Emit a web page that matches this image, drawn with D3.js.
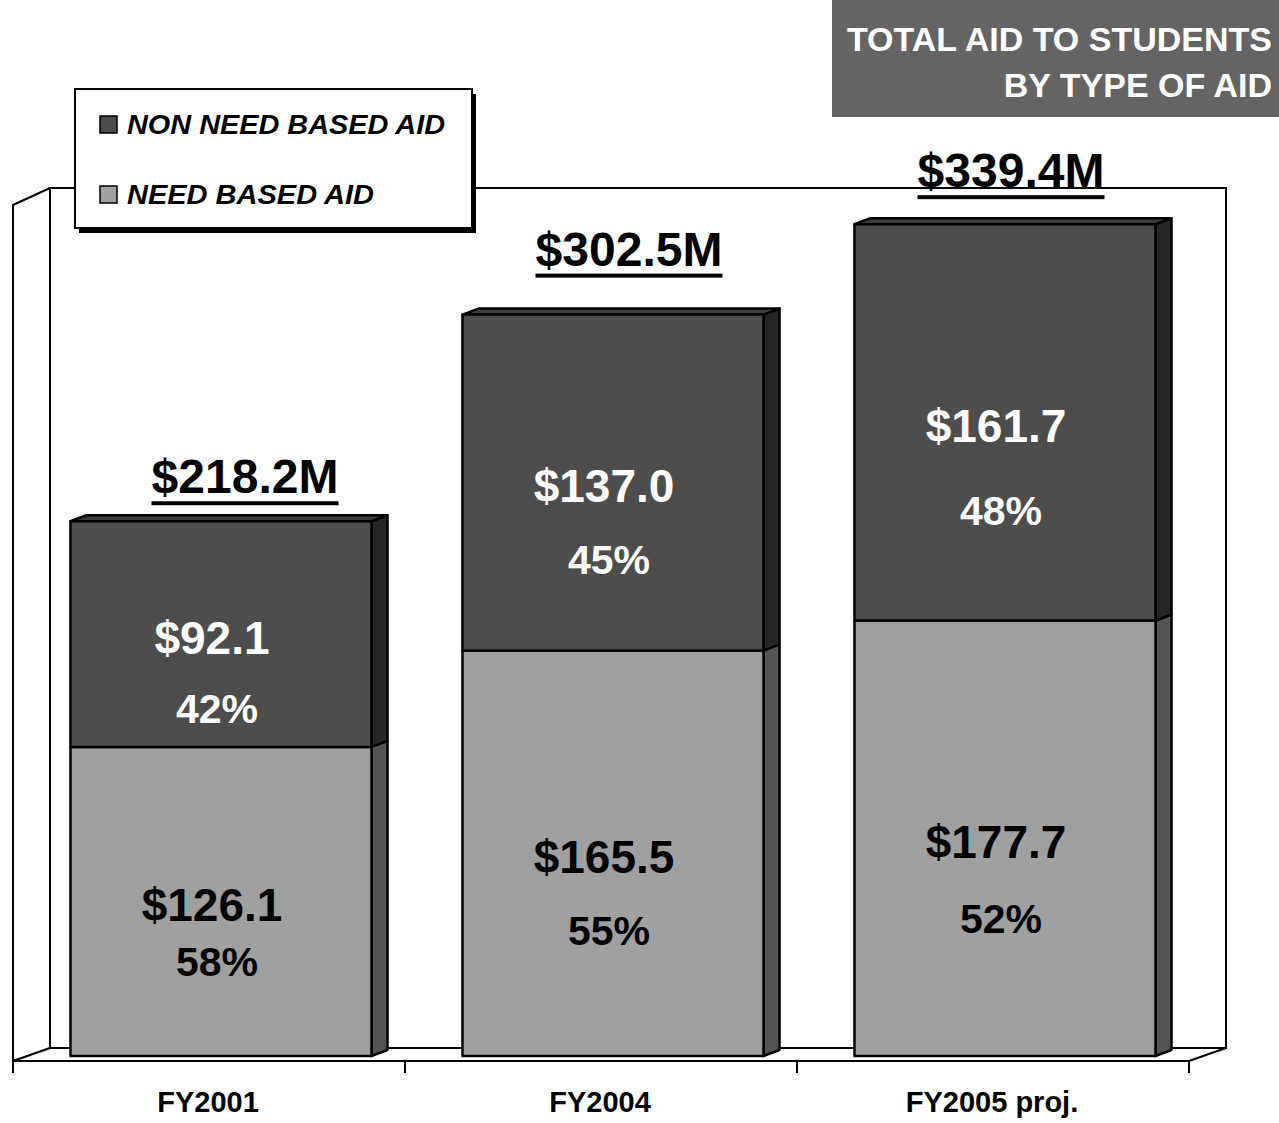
<!DOCTYPE html>
<html>
<head>
<meta charset="utf-8">
<script src="https://cdn.jsdelivr.net/npm/d3@7"></script>
<style>
	body { margin: 0; background: #fff; }
	svg { display: block; font-family: 'Liberation Sans', Arial, sans-serif; font-weight: bold; }
</style>
</head>
<body>
<div id="chart"></div>
<script>
(function(){

// data
var years    = ['FY2001', 'FY2004', 'FY2005 proj.'];
var needAid  = [126.1, 165.5, 177.7];
var nonNeed  = [92.1, 137.0, 161.7];
var needPct  = ['58%', '55%', '52%'];
var nonPct   = ['42%', '45%', '48%'];
var totals   = ['$218.2M', '$302.5M', '$339.4M'];
var seriesNames = ['NON NEED BASED AID', 'NEED BASED AID'];

var width = 1279;
var height = 1123;

// floor / wall geometry (front edge, back edge)
var frontL = 13, frontR = 1189, floorFront = 1061;
var backL = 50, backR = 1226, floorBack = 1048, wallTop = 188;
// bar depth
var dx = 16, dy = -6;

// hand placed label nudges (the original wasn't consistent)
var pctGap = {light: [55, 72, 75], dark: [69, 72, 83]};
var totalDx = [24, 16, 6];
var totalDy = [28, 49, 37];

var colors = {
	dark:  {front: '#4d4d4d', side: '#262626', top: '#3d3d3d'},
	light: {front: '#a0a0a0', side: '#555555', top: '#8a8a8a'}
};

var svg = d3.select('#chart').append('svg')
	.attr('width', width)
	.attr('height', height);

var x = d3.scaleBand()
	.domain(years)
	.range([frontL + 12, frontR + 12])
	.paddingInner(0.232)
	.paddingOuter(0.116);

var xAxisScale = d3.scaleBand()
	.domain(years)
	.range([frontL, frontR]);

var y = d3.scaleLinear()
	.domain([0, 350])
	.range([1056, 198.2]);

// walls
var walls = svg.append('g')
	.attr('fill', 'none')
	.attr('stroke', '#000')
	.attr('stroke-width', 2);

walls.append('rect')
	.attr('x', backL).attr('y', wallTop)
	.attr('width', backR - backL).attr('height', floorBack - wallTop);

walls.append('path')
	.attr('d', 'M' + frontL + ',' + (floorFront + 12) +
		'V' + (wallTop + 17) + 'L' + backL + ',' + wallTop);

walls.append('path')
	.attr('d', 'M' + frontL + ',' + floorFront + 'L' + backL + ',' + floorBack +
		'M' + frontL + ',' + floorFront + 'H' + frontR + 'L' + backR + ',' + floorBack);

// x axis ticks + labels
var ticks = xAxisScale.domain().map(function(d) { return xAxisScale(d); }).concat([frontR]);
walls.selectAll('line.tick').data(ticks).enter()
	.append('line')
	.attr('class', 'tick')
	.attr('x1', function(d) { return d; })
	.attr('x2', function(d) { return d; })
	.attr('y1', floorFront)
	.attr('y2', floorFront + 12);

svg.selectAll('text.cat').data(years).enter()
	.append('text')
	.attr('class', 'cat')
	.attr('x', function(d) { return xAxisScale(d) + xAxisScale.bandwidth() / 2 - 1; })
	.attr('y', 1112)
	.attr('text-anchor', 'middle')
	.attr('font-size', 29)
	.text(function(d) { return d; });

// stacked segments
var segs = [];
years.forEach(function(yr, i) {
	segs.push({yr: yr, y0: 0, y1: needAid[i], tone: 'light', top: false,
		val: '$' + needAid[i].toFixed(1), pct: needPct[i], i: i});
	segs.push({yr: yr, y0: needAid[i], y1: needAid[i] + nonNeed[i], tone: 'dark', top: true,
		val: '$' + nonNeed[i].toFixed(1), pct: nonPct[i], i: i});
});

var bars = svg.append('g')
	.attr('stroke', '#000')
	.attr('stroke-width', 2.5)
	.attr('stroke-linejoin', 'round');

function sidePath(d) {
	var x1 = x(d.yr) + x.bandwidth();
	return 'M' + x1 + ',' + y(d.y1) + 'L' + (x1 + dx) + ',' + (y(d.y1) + dy) +
		'V' + (y(d.y0) + dy) + 'L' + x1 + ',' + y(d.y0) + 'Z';
}
function topPath(d) {
	var x0 = x(d.yr), x1 = x0 + x.bandwidth(), yt = y(d.y1);
	return 'M' + x0 + ',' + yt + 'L' + (x0 + dx) + ',' + (yt + dy) +
		'H' + (x1 + dx) + 'L' + x1 + ',' + yt + 'Z';
}

bars.selectAll('path.side').data(segs).enter()
	.append('path')
	.attr('class', 'side')
	.attr('d', sidePath)
	.attr('fill', function(d) { return colors[d.tone].side; });

bars.selectAll('path.top').data(segs.filter(function(d) { return d.top; })).enter()
	.append('path')
	.attr('class', 'top')
	.attr('d', topPath)
	.attr('fill', function(d) { return colors[d.tone].top; });

bars.selectAll('rect.front').data(segs).enter()
	.append('rect')
	.attr('class', 'front')
	.attr('x', function(d) { return x(d.yr); })
	.attr('y', function(d) { return y(d.y1); })
	.attr('width', x.bandwidth())
	.attr('height', function(d) { return y(d.y0) - y(d.y1); })
	.attr('fill', function(d) { return colors[d.tone].front; });

// segment labels ($ value + share)
var lab = svg.selectAll('g.seglab').data(segs).enter()
	.append('g')
	.attr('class', 'seglab')
	.attr('fill', function(d) { return d.tone == 'dark' ? '#fff' : '#000'; })
	.attr('text-anchor', 'middle');

lab.append('text')
	.attr('x', function(d) { return x(d.yr) + x.bandwidth() / 2 - 9; })
	.attr('y', function(d) { return (y(d.y0) + y(d.y1)) / 2 + 20; })
	.attr('font-size', 46)
	.text(function(d) { return d.val; });

lab.append('text')
	.attr('x', function(d) { return x(d.yr) + x.bandwidth() / 2 - 4; })
	.attr('y', function(d) { return (y(d.y0) + y(d.y1)) / 2 + 20 + pctGap[d.tone][d.i]; })
	.attr('font-size', 41)
	.text(function(d) { return d.pct; });

// totals, underlined
var tot = svg.selectAll('g.total').data(years).enter()
	.append('g')
	.attr('class', 'total');

tot.append('text')
	.attr('x', function(d, i) { return x(d) + x.bandwidth() / 2 + totalDx[i]; })
	.attr('y', function(d, i) { return y(needAid[i] + nonNeed[i]) - totalDy[i]; })
	.attr('text-anchor', 'middle')
	.attr('font-size', 48)
	.text(function(d, i) { return totals[i]; });

tot.append('rect')
	.attr('x', function(d, i) { return x(d) + x.bandwidth() / 2 + totalDx[i] - 93.5; })
	.attr('y', function(d, i) { return y(needAid[i] + nonNeed[i]) - totalDy[i] + 8; })
	.attr('width', 187)
	.attr('height', 4)
	.attr('fill', '#000');

// legend
var legend = svg.append('g');
legend.append('rect')
	.attr('x', 79).attr('y', 94).attr('width', 397).attr('height', 139)
	.attr('fill', '#000');
legend.append('rect')
	.attr('x', 75).attr('y', 89).attr('width', 397).attr('height', 139)
	.attr('fill', '#fff').attr('stroke', '#000').attr('stroke-width', 2);

var legendWidths = [318, 247];
var li = legend.selectAll('g.item').data(seriesNames).enter()
	.append('g')
	.attr('class', 'item')
	.attr('transform', function(d, i) { return 'translate(100,' + (116 + i * 70) + ')'; });

li.append('rect')
	.attr('width', 17).attr('height', 17)
	.attr('fill', function(d, i) { return i == 0 ? colors.dark.front : colors.light.front; })
	.attr('stroke', '#000').attr('stroke-width', 1.5);

li.append('text')
	.attr('x', 27).attr('y', 18)
	.attr('font-size', 28)
	.attr('font-style', 'italic')
	.attr('textLength', function(d, i) { return legendWidths[i]; })
	.attr('lengthAdjust', 'spacingAndGlyphs')
	.text(function(d) { return d; });

// title box
svg.append('rect')
	.attr('x', 832).attr('y', 0).attr('width', width - 832).attr('height', 117)
	.attr('fill', '#646464');

svg.append('text')
	.attr('text-anchor', 'end')
	.attr('fill', '#fff')
	.attr('font-size', 34)
	.selectAll('tspan').data(['TOTAL AID TO STUDENTS', 'BY TYPE OF AID']).enter()
	.append('tspan')
	.attr('x', 1272)
	.attr('y', function(d, i) { return 51 + i * 46; })
	.text(function(d) { return d; });

})();
</script>
</body>
</html>
